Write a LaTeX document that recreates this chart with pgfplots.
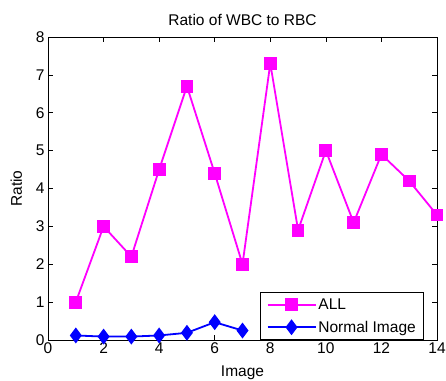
\documentclass[border=0pt]{standalone}
\usepackage{fontspec}
\setmainfont{Liberation Sans}
\usepackage{pgfplots}
\pgfplotsset{compat=1.18}
\begin{document}
\begin{tikzpicture}[x=1pt,y=1pt]
\useasboundingbox (-48pt,-40pt) rectangle (398pt,340pt);
\begin{axis}[
  at={(0pt,0pt)}, anchor=origin,
  scale only axis, width=389pt, height=303pt,
  xmin=0, xmax=14, ymin=0, ymax=8,
  xtick={0,2,...,14}, ytick={0,1,...,8},
  tick align=inside, tick pos=both,
  major tick length=5pt,
  axis line style={line width=0.8pt},
  every tick/.style={black, line width=0.6pt},
  /pgf/number format/assume math mode=true,
  ticklabel style={font=\fontsize{15.5}{17}\selectfont},
  xticklabel style={yshift=1pt},
  title={Ratio of WBC to RBC},
  title style={font=\fontsize{15.5}{17}\selectfont, yshift=2pt},
  xlabel={Image}, ylabel={Ratio},
  label style={font=\fontsize{15.5}{17}\selectfont},
  xlabel style={yshift=-5pt},
  ylabel style={yshift=7pt},
  legend style={at={(rel axis cs:0.967,0)}, anchor=south east, font=\fontsize{15.5}{17}\selectfont, draw=black, line width=0.8pt, row sep=6pt, inner xsep=6pt, inner ysep=4pt},
  legend image code/.code={\draw[mark repeat=2,mark phase=2] plot coordinates {(0pt,0pt) (24pt,0pt) (48pt,0pt)};},
  legend cell align=left,
]
\addplot[color={rgb,255:red,255;green,0;blue,255}, line width=1.8pt, mark=square*, mark size=5.5pt, mark options={solid}] coordinates {
(1,1.0) (2,3.0) (3,2.2) (4,4.5) (5,6.7) (6,4.4) (7,2.0) (8,7.3) (9,2.9) (10,5.0) (11,3.1) (12,4.9) (13,4.2) (14,3.3)
};
\addlegendentry{ALL}
\addplot[color=blue, line width=1.8pt, mark=diamond*, mark size=6.5pt, mark options={solid}] coordinates {
(1,0.12) (2,0.09) (3,0.09) (4,0.12) (5,0.19) (6,0.47) (7,0.25)
};
\addlegendentry{Normal Image}
\end{axis}
\end{tikzpicture}
\end{document}
